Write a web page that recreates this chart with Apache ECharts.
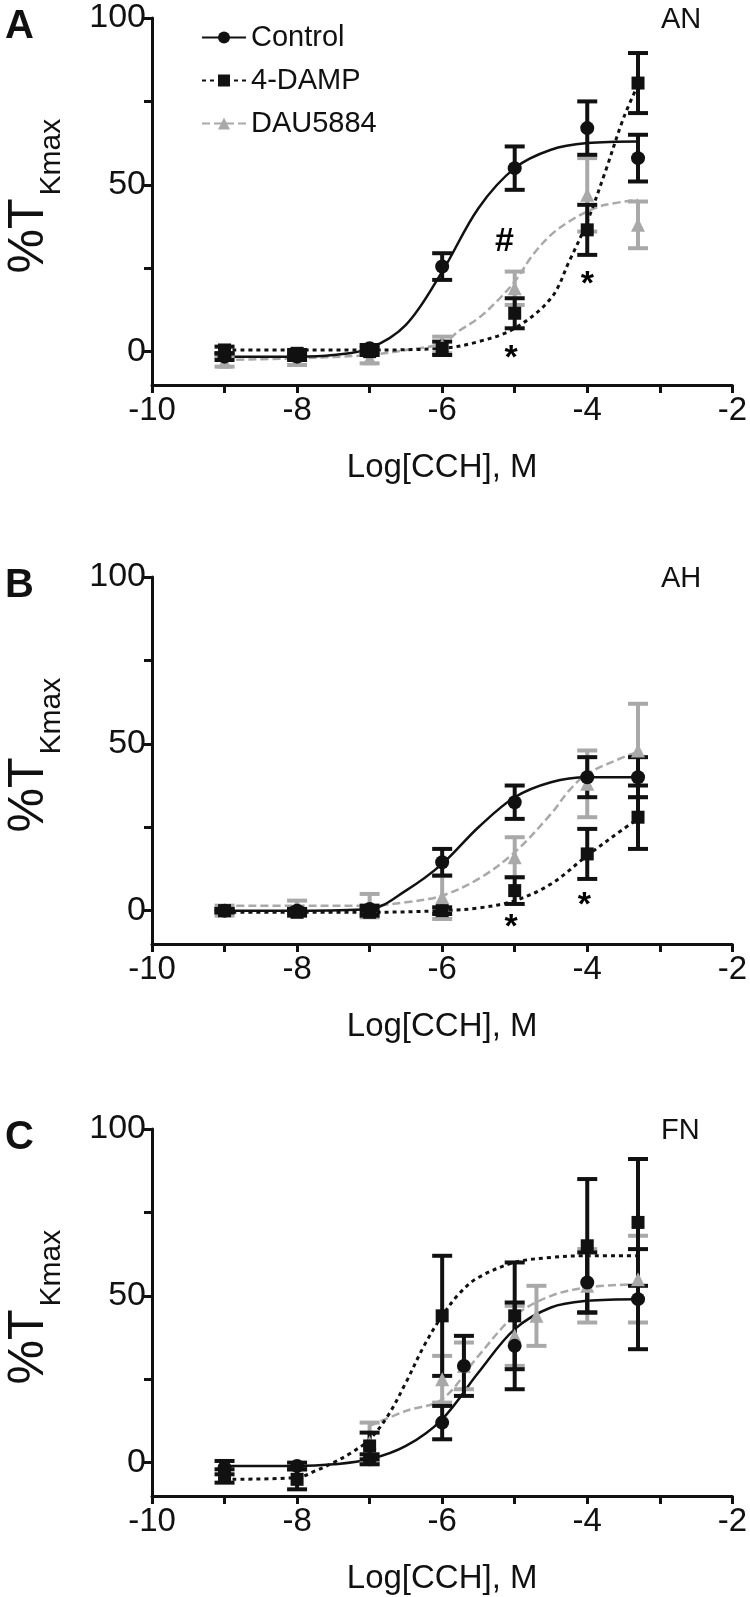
<!DOCTYPE html>
<html>
<head>
<meta charset="utf-8">
<script src="https://cdn.jsdelivr.net/npm/echarts@6/dist/echarts.min.js"></script>
<style>
  html, body { margin: 0; padding: 0; background: #fff; }
  #chart { width: 750px; height: 1597px; }
</style>
</head>
<body>
<div id="chart"></div>
<script>
// concentrations (log M)
const conc = [-9, -8, -7, -6, -5, -4, -3.3];

// panel A (AN) - points
const ctrlA = [-1.5, -1.5, 1, 25.5, 55, 67, 58];
const ctrlAErr = [1, 1, 1, 4, 6.5, 8, 7];
const dampA = [0.5, -0.5, 0, 1, 11.5, 36.5, 80.5];
const dampAErr = [1, 1, 1, 2, 4.5, 7.5, 9];
const dauA = [-3, -2.5, -2, 2, 19, 47, 38];
const dauAErr = [1.5, 1.5, 1.5, 2.5, 5, 11, 7];
// panel A - fitted curves
const ctrlCurveAX = [-9, -8, -7.5, -7, -6.5, -6, -5.5, -5, -4.5, -4, -3.3];
const ctrlCurveAY = [-1.5, -1.5, -1, 1, 8, 24, 43, 55, 60.5, 62.5, 63];
const dampCurveAX = [-9, -8, -7, -6, -5.5, -5, -4.5, -4.25, -4, -3.75, -3.5, -3.3];
const dampCurveAY = [0.5, 0.5, 0.5, 1, 3, 7, 16, 27, 39, 54, 70, 80];
const dauCurveAX = [-9, -8, -7, -6.5, -6, -5.75, -5.5, -5.25, -5, -4.75, -4.5, -4.25, -4, -3.75, -3.3];
const dauCurveAY = [-2.5, -2, -1, 0.5, 2.5, 6.5, 10, 15, 21, 29, 35, 39, 42, 44, 45.5];

// panel B (AH)
const ctrlB = [0, 0, 0.5, 14.5, 32.5, 40, 40];
const ctrlBErr = [0.5, 0.5, 1, 4, 5, 6, 6];
const dampB = [0, -0.5, -0.5, 0, 6, 17, 28];
const dampBErr = [0.5, 1, 1, 1, 4, 7.5, 9.5];
const dauB = [0, 1.5, 1.5, 4, 16, 38, 48];
const dauBErr = [1.5, 1.5, 3.5, 6.5, 6, 10, 14];
const ctrlCurveBX = [-9, -8, -7, -6.5, -6, -5.5, -5, -4.5, -4, -3.3];
const ctrlCurveBY = [0, 0, 0.5, 6, 14, 25, 34, 38.5, 40, 40];
const dampCurveBX = [-9, -8, -7, -6, -5.5, -5, -4.5, -4, -3.5, -3.3];
const dampCurveBY = [-0.5, -0.5, -0.5, 0, 0.8, 3, 8, 16.5, 24.5, 27.5];
const dauCurveBX = [-9, -8, -7, -6.5, -6, -5.5, -5, -4.5, -4.25, -4, -3.5, -3.3];
const dauCurveBY = [1.5, 1.5, 1.5, 2.5, 4.5, 9.5, 17.5, 29, 36, 41, 46, 47.5];

// panel C (FN)
const ctrlCX = [-9, -8, -7, -6, -5.7, -5, -4, -3.3];
const ctrlC = [-1.5, -1, 1, 12, 29, 35, 54, 49];
const ctrlCErr = [2, 1, 1.5, 5, 9, 13, 9, 15];
const dampCX = [-9, -8, -7, -6, -5, -4, -3.3];
const dampC = [-4, -5, 5, 44, 44, 65, 72];
const dampCErr = [2, 3, 4, 18, 16, 20, 19];
const dauCX = [-7, -6, -5.7, -5, -4.7, -4, -3.3];
const dauC = [6, 25, 29, 38, 44, 53, 55];
const dauCErr = [6, 7, 7, 9, 9, 11, 13];
const ctrlCurveCX = [-9, -8, -7.5, -7, -6.5, -6, -5.5, -5, -4.5, -4, -3.3];
const ctrlCurveCY = [-1, -1, -0.5, 1, 5, 13, 27, 40, 46.5, 48.5, 49];
const dampCurveCX = [-9, -8, -7.75, -7.5, -7.25, -7, -6.75, -6.5, -6.25, -6, -5.75, -5.5, -5, -4.5, -4, -3.3];
const dampCurveCY = [-5, -4.5, -2.5, 0, 3, 7, 14, 24, 35, 44, 51, 55.5, 60, 61.5, 62, 62];
const dauCurveCX = [-7, -6.5, -6, -5.5, -5, -4.5, -4, -3.3];
const dauCurveCY = [11, 15.5, 19, 32, 44, 50, 52.5, 53.5];

// significance marks [x, y, text]
const marksA = [[-5.14, 33, '#'], [-5.05, -2, '*'], [-4.0, 20, '*']];
const marksB = [[-5.05, -5, '*'], [-4.04, 1.5, '*']];

const panelLetters = ['A', 'B', 'C'];
const panelNames = ['AN', 'AH', 'FN'];
const legendNames = ['Control', '4-DAMP', 'DAU5884'];

const BLACK = '#111';
const GREY = '#a9a9a9';
const FONT = 'Liberation Sans, Arial, sans-serif';
const gridTops = [18, 577, 1129];
const gridH = 367;

const chart = echarts.init(document.getElementById('chart'));

function zip(xs, ys) { return xs.map((x, i) => [x, ys[i]]); }
function zip3(xs, ys, es) { return xs.map((x, i) => [x, ys[i], es[i]]); }

// vertical error bar with caps
function errRender(color) {
  return function (params, api) {
    const x = api.value(0), y = api.value(1), e = api.value(2);
    const hi = api.coord([x, y + e]);
    const lo = api.coord([x, y - e]);
    const w = 10;
    const st = { stroke: color, lineWidth: 4 };
    return {
      type: 'group',
      children: [
        { type: 'line', shape: { x1: hi[0], y1: hi[1], x2: lo[0], y2: lo[1] }, style: st },
        { type: 'line', shape: { x1: hi[0] - w, y1: hi[1], x2: hi[0] + w, y2: hi[1] }, style: st },
        { type: 'line', shape: { x1: lo[0] - w, y1: lo[1], x2: lo[0] + w, y2: lo[1] }, style: st }
      ]
    };
  };
}

const styles = [
  { color: BLACK, symbol: 'circle', size: 14, line: { width: 2.5, type: 'solid' } },
  { color: BLACK, symbol: 'rect', size: 13, line: { width: 3, type: [4, 4] } },
  { color: GREY, symbol: 'triangle', size: 14, line: { width: 2.5, type: [8, 4] } }
];

const panels = [
  {
    pts: [zip3(conc, ctrlA, ctrlAErr), zip3(conc, dampA, dampAErr), zip3(conc, dauA, dauAErr)],
    curves: [zip(ctrlCurveAX, ctrlCurveAY), zip(dampCurveAX, dampCurveAY), zip(dauCurveAX, dauCurveAY)],
    marks: marksA
  },
  {
    pts: [zip3(conc, ctrlB, ctrlBErr), zip3(conc, dampB, dampBErr), zip3(conc, dauB, dauBErr)],
    curves: [zip(ctrlCurveBX, ctrlCurveBY), zip(dampCurveBX, dampCurveBY), zip(dauCurveBX, dauCurveBY)],
    marks: marksB
  },
  {
    pts: [zip3(ctrlCX, ctrlC, ctrlCErr), zip3(dampCX, dampC, dampCErr), zip3(dauCX, dauC, dauCErr)],
    curves: [zip(ctrlCurveCX, ctrlCurveCY), zip(dampCurveCX, dampCurveCY), zip(dauCurveCX, dauCurveCY)],
    marks: []
  }
];

const grids = [], xAxes = [], yAxes = [], series = [], titles = [], graphics = [];
const drawOrder = [2, 0, 1]; // grey first, black on top

panels.forEach((p, k) => {
  grids.push({ left: 152, width: 592, top: gridTops[k], height: gridH });
  xAxes.push({
    gridIndex: k, type: 'value', min: -10, max: -2, interval: 1,
    name: 'Log[CCH], M', nameLocation: 'middle', nameGap: 66,
    nameTextStyle: { fontSize: 33, color: BLACK, fontFamily: FONT },
    axisLine: { onZero: false, lineStyle: { color: BLACK, width: 3 } },
    axisTick: { length: 8, lineStyle: { color: BLACK, width: 3 } },
    axisLabel: {
      fontSize: 33, color: BLACK, margin: 9, fontFamily: FONT,
      formatter: v => (Math.round(v) % 2 === 0 ? String(v) : '')
    },
    splitLine: { show: false }
  });
  yAxes.push({
    gridIndex: k, type: 'value', min: -10, max: 100,
    axisLine: { show: true, lineStyle: { color: BLACK, width: 3 } },
    axisTick: { show: true, length: 8, lineStyle: { color: BLACK, width: 3 }, customValues: [0, 25, 50, 75, 100] },
    axisLabel: { fontSize: 34, color: BLACK, margin: 6, fontFamily: FONT, customValues: [0, 50, 100] },
    splitLine: { show: false }
  });

  drawOrder.forEach(g => {
    const s = styles[g];
    series.push({
      name: k === 0 ? legendNames[g] : legendNames[g] + ' ' + panelNames[k],
      type: 'line', xAxisIndex: k, yAxisIndex: k,
      data: p.curves[g], smooth: 0.35, showSymbol: false,
      symbol: s.symbol, symbolSize: s.size,
      itemStyle: { color: s.color, opacity: 1 },
      lineStyle: { color: s.color, width: s.line.width, type: s.line.type },
      z: 2, silent: true
    });
    series.push({
      type: 'custom', xAxisIndex: k, yAxisIndex: k,
      data: p.pts[g], renderItem: errRender(s.color),
      encode: { x: 0, y: 1 }, z: 3, silent: true
    });
    series.push({
      type: 'scatter', xAxisIndex: k, yAxisIndex: k,
      data: p.pts[g].map(d => [d[0], d[1]]),
      symbol: s.symbol, symbolSize: s.size,
      itemStyle: { color: s.color, opacity: 1 }, z: 4, silent: true
    });
  });

  if (p.marks.length) {
    series.push({
      type: 'scatter', xAxisIndex: k, yAxisIndex: k,
      data: p.marks.map(m => ({ value: [m[0], m[1]], name: m[2] })),
      symbolSize: 0, z: 5, silent: true,
      itemStyle: { opacity: 1 },
      label: {
        show: true, position: 'inside', formatter: '{b}', color: '#000',
        fontSize: 34, fontWeight: 'bold', fontFamily: FONT
      }
    });
  }

  titles.push({
    text: panelLetters[k], left: 0, top: gridTops[k] - 16,
    textStyle: { fontSize: 40, fontWeight: 'bold', color: BLACK, fontFamily: FONT }
  });
  titles.push({
    text: panelNames[k], left: 656, top: gridTops[k] - 18,
    textStyle: { fontSize: 29, fontWeight: 'normal', color: BLACK, fontFamily: FONT }
  });

  // rotated y-axis title: %T with subscript Kmax
  graphics.push({
    type: 'group', x: 4, y: gridTops[k] + gridH / 2 - 8, rotation: Math.PI / 2,
    children: [
      { type: 'text', x: -80, y: 0, style: { text: '%T', fontSize: 50, fill: BLACK, fontFamily: FONT, textAlign: 'left', textVerticalAlign: 'top' } },
      { type: 'text', x: -2, y: 33, style: { text: 'Kmax', fontSize: 30, fill: BLACK, fontFamily: FONT, textAlign: 'left', textVerticalAlign: 'top' } }
    ]
  });
});

chart.setOption({
  animation: false,
  backgroundColor: '#fff',
  title: titles,
  legend: {
    data: legendNames, orient: 'vertical', left: 196, top: 18,
    itemWidth: 44, itemHeight: 15, itemGap: 14,
    textStyle: { fontSize: 29, color: BLACK, fontFamily: FONT },
    selectedMode: false
  },
  grid: grids,
  xAxis: xAxes,
  yAxis: yAxes,
  series: series,
  graphic: graphics
});
</script>
</body>
</html>
